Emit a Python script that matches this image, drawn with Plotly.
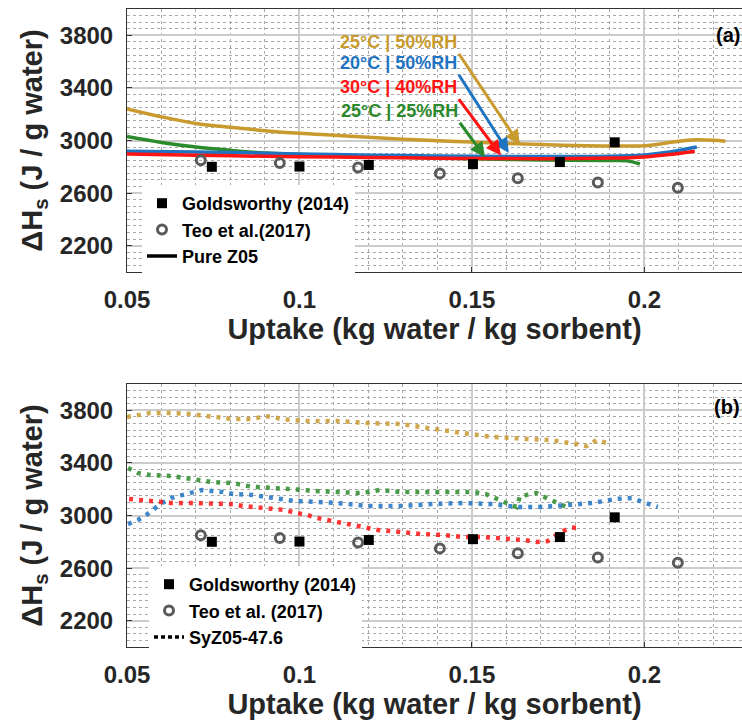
import plotly.graph_objects as go

# ---------------- data ----------------
gold_x = [0.05, 0.06, 0.07, 0.08, 0.09, 0.10, 0.11, 0.12, 0.13, 0.14, 0.15, 0.16, 0.17, 0.18, 0.19, 0.20, 0.205, 0.21, 0.215, 0.22, 0.2235]
gold_y = [3240, 3180, 3130, 3100, 3075, 3055, 3040, 3025, 3010, 2998, 2988, 2978, 2970, 2962, 2958, 2960, 2975, 2995, 3005, 3002, 2995]
blue_x = [0.05, 0.07, 0.09, 0.11, 0.13, 0.15, 0.17, 0.19, 0.20, 0.205, 0.21, 0.2152]
blue_y = [2918, 2912, 2903, 2893, 2885, 2880, 2878, 2880, 2890, 2905, 2925, 2950]
red_x = [0.05, 0.07, 0.09, 0.11, 0.13, 0.15, 0.17, 0.19, 0.20, 0.205, 0.21, 0.2146]
red_y = [2898, 2888, 2880, 2874, 2868, 2864, 2862, 2866, 2875, 2888, 2902, 2918]
green_x = [0.05, 0.06, 0.07, 0.08, 0.09, 0.11, 0.13, 0.15, 0.17, 0.19, 0.195, 0.1987]
green_y = [3030, 2985, 2950, 2925, 2905, 2885, 2872, 2862, 2852, 2848, 2845, 2821]

# panel (b) SyZ05-47.6
bgold_x = [0.0500, 0.0567, 0.0628, 0.0686, 0.0746, 0.0807, 0.0865, 0.0900, 0.0960, 0.1022, 0.1109, 0.1199, 0.1291, 0.1384, 0.1474, 0.1561, 0.1649, 0.1725, 0.1804, 0.1833, 0.1862, 0.1900]
bgold_y = [3749, 3779, 3779, 3772, 3752, 3734, 3734, 3757, 3730, 3719, 3719, 3703, 3696, 3665, 3627, 3597, 3582, 3574, 3544, 3528, 3574, 3544]
bgreen_x = [0.0503, 0.0532, 0.0567, 0.0628, 0.0686, 0.0746, 0.0807, 0.0865, 0.0926, 0.0987, 0.1051, 0.1109, 0.1167, 0.1199, 0.1233, 0.1291, 0.1349, 0.1407, 0.1465, 0.1503, 0.1541, 0.1571, 0.1600, 0.1629, 0.1640, 0.1658, 0.1687, 0.1716, 0.1745, 0.1774, 0.1783]
bgreen_y = [3361, 3323, 3308, 3300, 3278, 3255, 3247, 3217, 3209, 3194, 3186, 3179, 3171, 3179, 3194, 3179, 3179, 3186, 3186, 3179, 3163, 3133, 3095, 3065, 3150, 3156, 3171, 3133, 3103, 3065, 3103]
bblue_x = [0.0503, 0.0532, 0.0564, 0.0596, 0.0628, 0.066, 0.0689, 0.0717, 0.0746, 0.0778, 0.0807, 0.0865, 0.0926, 0.0987, 0.1051, 0.1109, 0.1199, 0.1291, 0.1384, 0.1474, 0.1561, 0.1629, 0.1707, 0.1783, 0.1849, 0.1919, 0.1965, 0.1994, 0.2039]
bblue_y = [2935, 2966, 3019, 3087, 3133, 3156, 3179, 3194, 3186, 3179, 3163, 3156, 3133, 3110, 3103, 3095, 3072, 3072, 3087, 3095, 3087, 3065, 3065, 3080, 3095, 3126, 3133, 3103, 3065]
bred_x = [0.0506, 0.0535, 0.0567, 0.0596, 0.0628, 0.0686, 0.0746, 0.0807, 0.0836, 0.0865, 0.0897, 0.0926, 0.0958, 0.099, 0.1022, 0.1051, 0.108, 0.1109, 0.1167, 0.1228, 0.1291, 0.1349, 0.1416, 0.1474, 0.1532, 0.159, 0.1649, 0.1687, 0.172, 0.1754, 0.1783, 0.1817]
bred_y = [3126, 3118, 3110, 3103, 3095, 3095, 3095, 3087, 3072, 3065, 3057, 3049, 3042, 3019, 3004, 2981, 2966, 2951, 2913, 2890, 2875, 2860, 2852, 2837, 2837, 2829, 2814, 2799, 2806, 2867, 2905, 2913]

gold_exp_x = [0.0746, 0.1000, 0.1201, 0.1503, 0.1755, 0.1914]
gold_exp_y = [2800, 2802, 2814, 2820, 2836, 2986]
teo_x = [0.0714, 0.0943, 0.1170, 0.1407, 0.1633, 0.1865, 0.2097]
teo_y = [2850, 2828, 2795, 2750, 2713, 2680, 2640]

ytick_vals = [2200, 2600, 3000, 3400, 3800]
xtick_vals = [0.05, 0.1, 0.15, 0.2]
xtick_text = ["0.05", "0.1", "0.15", "0.2"]

X_TITLE = "Uptake (kg water / kg sorbent)"
Y_TITLE = "ΔH<sub>s</sub> (J / g water)"

C_GOLD = "#C99A2E"
C_BLUE = "#1F74C2"
C_RED = "#FF1414"
C_GREEN = "#2B8A2B"

FONT = "Liberation Sans, Arial, sans-serif"

fig = go.Figure()

# ---- panel (a) ----
for xs, ys, c in [(gold_x, gold_y, C_GOLD), (green_x, green_y, C_GREEN),
                  (blue_x, blue_y, C_BLUE), (red_x, red_y, C_RED)]:
    fig.add_trace(go.Scatter(x=xs, y=ys, mode="lines", line=dict(color=c, width=3.5, shape="spline"),
                             showlegend=False, xaxis="x", yaxis="y"))

fig.add_trace(go.Scatter(x=gold_exp_x, y=gold_exp_y, mode="markers", name="Goldsworthy (2014)",
                         marker=dict(symbol="square", size=10, color="black"),
                         xaxis="x", yaxis="y", legend="legend"))
fig.add_trace(go.Scatter(x=teo_x, y=teo_y, mode="markers", name="Teo et al.(2017)",
                         marker=dict(symbol="circle-open", size=9, color="#5a5a5a", line=dict(width=3, color="#5a5a5a")),
                         xaxis="x", yaxis="y", legend="legend"))
fig.add_trace(go.Scatter(x=[None], y=[None], mode="lines", name="Pure Z05",
                         line=dict(color="black", width=3.5), xaxis="x", yaxis="y", legend="legend"))

# ---- panel (b) ----
for xs, ys, c in [(bgold_x, bgold_y, C_GOLD), (bgreen_x, bgreen_y, C_GREEN),
                  (bblue_x, bblue_y, C_BLUE), (bred_x, bred_y, C_RED)]:
    fig.add_trace(go.Scatter(x=xs, y=ys, mode="lines", line=dict(color=c, width=4.5, dash="4px,6px"),
                             opacity=0.85, showlegend=False, xaxis="x2", yaxis="y2"))

fig.add_trace(go.Scatter(x=gold_exp_x, y=gold_exp_y, mode="markers", name="Goldsworthy (2014)",
                         marker=dict(symbol="square", size=10, color="black"),
                         xaxis="x2", yaxis="y2", legend="legend2"))
fig.add_trace(go.Scatter(x=teo_x, y=teo_y, mode="markers", name="Teo et al. (2017)",
                         marker=dict(symbol="circle-open", size=9, color="#5a5a5a", line=dict(width=3, color="#5a5a5a")),
                         xaxis="x2", yaxis="y2", legend="legend2"))
fig.add_trace(go.Scatter(x=[None], y=[None], mode="lines", name="SyZ05-47.6",
                         line=dict(color="black", width=3.5, dash="4px,3px"), xaxis="x2", yaxis="y2", legend="legend2"))

XMAX = 0.2283
TITLE_FONT = dict(family=FONT, size=29, color="#262626", weight="bold")

def xax(anchor):
    return dict(range=[0.05, XMAX], tickmode="array", tickvals=xtick_vals, ticktext=xtick_text,
                showline=True, linecolor="#333333", linewidth=1, mirror=True,
                ticks="inside", ticklen=5, tickcolor="#333333",
                showgrid=True, gridcolor="#cccccc", gridwidth=1.5,
                minor=dict(tickmode="linear", tick0=0.05, dtick=0.01, showgrid=True,
                           gridcolor="#a8a8a8", griddash="dot", gridwidth=1, ticks=""),
                tickfont=dict(family=FONT, size=24, color="#262626", weight="bold"),
                ticklabelstandoff=6, zeroline=False, anchor=anchor, automargin=False,
                title=dict(text=X_TITLE, font=TITLE_FONT, standoff=6))

def yax(domain, anchor):
    return dict(range=[2000, 4000], domain=domain, tickmode="array", tickvals=ytick_vals,
                showline=True, linecolor="#333333", linewidth=1, mirror=False,
                ticks="inside", ticklen=5, tickcolor="#333333",
                showgrid=True, gridcolor="#cccccc", gridwidth=1.5,
                minor=dict(tickmode="linear", tick0=2000, dtick=50, showgrid=True,
                           gridcolor="#a8a8a8", griddash="dot", gridwidth=1, ticks=""),
                tickfont=dict(family=FONT, size=24, color="#262626", weight="bold"),
                ticklabelstandoff=8, zeroline=False, anchor=anchor, automargin=False,
                title=dict(text=Y_TITLE, font=TITLE_FONT, standoff=8))

W, H = 742, 725
L, R, T, B = 127, 0, 9, 78
ph = H - T - B

def py(pix):
    return (H - B - pix) / ph

def px(pix):
    return (pix - L) / (W - L - R)

fig.update_layout(
    width=W, height=H, margin=dict(l=L, r=R, t=T, b=B),
    paper_bgcolor="white", plot_bgcolor="white",
    font=dict(family=FONT, color="black"),
    xaxis=xax("y"), yaxis=yax([py(272), 1.0], "x"),
    xaxis2=xax("y2"), yaxis2=yax([0.0, py(384)], "x2"),
    legend=dict(x=px(142), y=py(185), xanchor="left", yanchor="top", bgcolor="white",
                font=dict(family=FONT, size=18, color="black", weight="bold"),
                tracegroupgap=0, itemwidth=30),
    legend2=dict(x=px(149), y=py(566), xanchor="left", yanchor="top", bgcolor="white",
                 font=dict(family=FONT, size=18, color="black", weight="bold"),
                 tracegroupgap=0, itemwidth=30),
)

ann = []
# panel labels
ann.append(dict(text="(a)", xref="paper", yref="paper", x=px(742), y=py(35), showarrow=False,
                xanchor="right", yanchor="middle", font=dict(family=FONT, size=20, color="black", weight="bold")))
ann.append(dict(text="(b)", xref="paper", yref="paper", x=px(742), y=py(407), showarrow=False,
                xanchor="right", yanchor="middle", font=dict(family=FONT, size=20, color="black", weight="bold")))

# condition labels with arrows (panel a): text box's bottom-right corner sits at the arrow tail
labels = [("25°C | 50%RH", C_GOLD, (0.1639, 2966), (0.1462, 3660)),
          ("20°C | 50%RH", C_BLUE, (0.1607, 2905), (0.1462, 3500)),
          ("30°C | 40%RH", C_RED, (0.1584, 2885), (0.1462, 3315)),
          ("25°C | 25%RH", C_GREEN, (0.1538, 2872), (0.1465, 3135))]
for txt, col, head, tail in labels:
    ann.append(dict(text=txt, xref="x", yref="y", x=head[0], y=head[1], axref="x", ayref="y",
                    ax=tail[0], ay=tail[1], showarrow=True, arrowhead=2, arrowsize=1,
                    arrowwidth=3, arrowcolor=col, xanchor="right", yanchor="bottom",
                    font=dict(family=FONT, size=18, color=col, weight="bold")))

fig.update_layout(annotations=ann)

fig.write_html("out.html")
